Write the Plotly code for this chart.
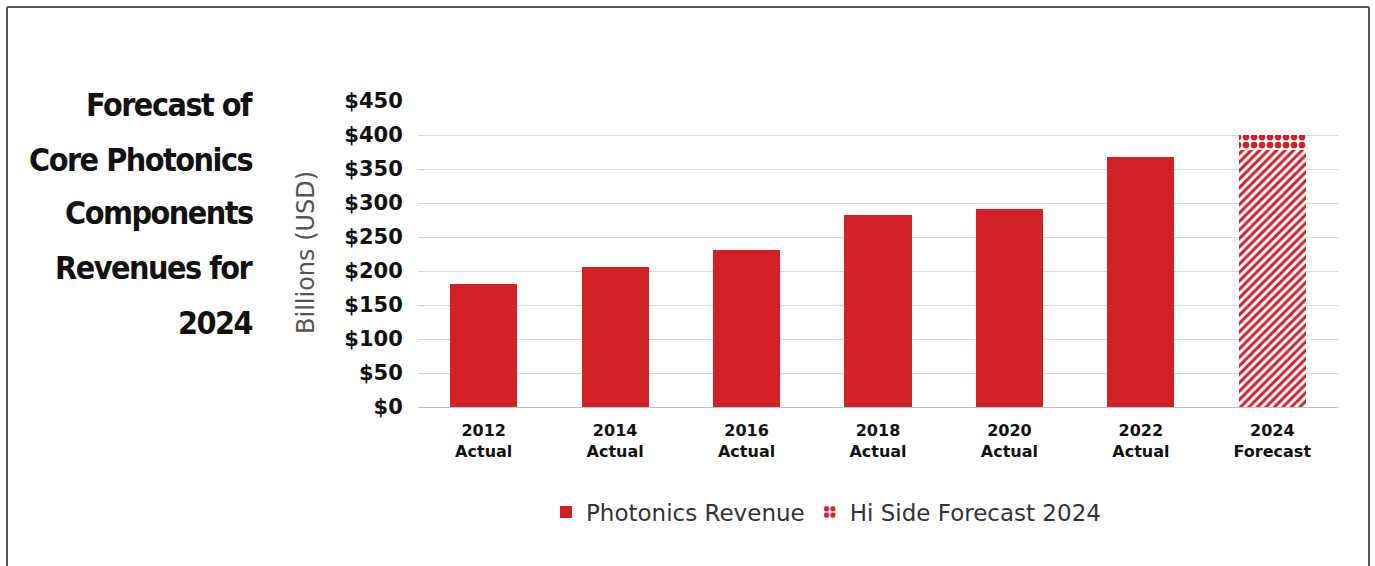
import plotly.graph_objects as go

# ---- data ----
categories = ["2012<br>Actual", "2014<br>Actual", "2016<br>Actual", "2018<br>Actual",
              "2020<br>Actual", "2022<br>Actual", "2024<br>Forecast"]
actual_revenue = [181, 206, 231, 282, 291, 368, None]
forecast_category = ["2024<br>Forecast"]
forecast_base = [378]
hi_side_extra = [22]
y_tickvals = [0, 50, 100, 150, 200, 250, 300, 350, 400, 450]
y_ticktext = ["$0", "$50", "$100", "$150", "$200", "$250", "$300", "$350", "$400", "$450"]
title_lines = ["Forecast of", "Core Photonics", "Components", "Revenues for", "2024"]

RED = "#D42027"
W, H = 1375, 566
L, R, T, B = 418, 37, 101, 159
PW, PH = W - L - R, H - T - B
TITLE_FONT = "DejaVu Sans Condensed, Liberation Sans Narrow, sans-serif"


def px_x(p):
    return (p - L) / PW


def px_y(p):
    return (H - B - p) / PH


fig = go.Figure()
fig.add_trace(go.Bar(
    x=categories, y=actual_revenue, name="Photonics Revenue",
    marker=dict(color=RED, line=dict(width=0)),
))
fig.add_trace(go.Bar(
    x=forecast_category, y=forecast_base, name="Forecast 2024", showlegend=False,
    marker=dict(color="white", line=dict(width=0),
                pattern=dict(shape="/", fgcolor=RED, bgcolor="white", size=6, solidity=0.5,
                             fillmode="replace", fgopacity=1)),
))
fig.add_trace(go.Bar(
    x=forecast_category, y=hi_side_extra, name="Hi Side Forecast 2024",
    marker=dict(color="white", line=dict(width=0),
                pattern=dict(shape=".", fgcolor=RED, bgcolor="white", size=8, solidity=0.55,
                             fillmode="replace", fgopacity=1)),
))

annotations = []
title_ys = [105, 160, 213, 268, 323]
for line, yy in zip(title_lines, title_ys):
    annotations.append(dict(
        text='<span style="letter-spacing:-1.5px">' + line + '</span>',
        xref="paper", yref="paper", x=px_x(255), y=px_y(yy),
        xanchor="right", yanchor="middle", showarrow=False,
        font=dict(family=TITLE_FONT, size=32, color="#111111", weight="bold"),
    ))
annotations.append(dict(
    text="Billions (USD)", xref="paper", yref="paper", x=px_x(306), y=px_y(253),
    xanchor="center", yanchor="middle", textangle=-90, showarrow=False,
    font=dict(family="DejaVu Sans", size=24, color="#555555"),
))

shapes = [
    dict(type="line", xref="paper", yref="paper", x0=px_x(7), x1=px_x(7), y0=px_y(7), y1=px_y(580),
         line=dict(color="#555555", width=2)),
    dict(type="line", xref="paper", yref="paper", x0=px_x(7), x1=px_x(1369), y0=px_y(7), y1=px_y(7),
         line=dict(color="#555555", width=2)),
    dict(type="line", xref="paper", yref="paper", x0=px_x(1369), x1=px_x(1369), y0=px_y(7), y1=px_y(580),
         line=dict(color="#555555", width=2)),
]

fig.update_layout(
    width=W, height=H,
    margin=dict(l=L, r=R, t=T, b=B),
    paper_bgcolor="white", plot_bgcolor="white",
    barmode="stack", bargap=0.49,
    annotations=annotations, shapes=shapes,
    legend=dict(orientation="h", x=px_x(826), y=px_y(512), xanchor="center", yanchor="middle",
                font=dict(family="DejaVu Sans", size=23, color="#333333"),
                itemwidth=30, traceorder="normal"),
    font=dict(family="DejaVu Sans"),
)
fig.update_yaxes(
    range=[0, 450], tickvals=y_tickvals, ticktext=y_ticktext,
    showgrid=True, gridcolor="#d9d9d9", gridwidth=1,
    zeroline=True, zerolinecolor="#bfbfbf", zerolinewidth=1,
    tickfont=dict(family="DejaVu Sans", size=21, color="#111111", weight="bold"),
    ticks="outside", ticklen=10, tickcolor="rgba(0,0,0,0)",
)
fig.update_xaxes(
    categoryorder="array", categoryarray=categories,
    showline=False, ticklabelstandoff=12,
    tickfont=dict(family="DejaVu Sans", size=16, color="#111111", weight="bold"),
)

fig.write_html("out.html")
